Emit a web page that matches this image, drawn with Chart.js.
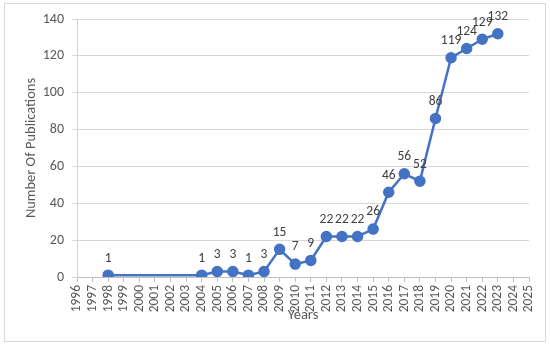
<!DOCTYPE html>
<html>
<head>
<meta charset="utf-8">
<script src="https://cdn.jsdelivr.net/npm/chart.js@4"></script>
<style>
  html, body { margin: 0; padding: 0; background: #ffffff; }
  #wrap { position: relative; width: 550px; height: 346px; }
</style>
</head>
<body>
<div id="wrap"><canvas id="c" width="550" height="346"></canvas></div>
<script>
const years = [1998, 2004, 2005, 2006, 2007, 2008, 2009, 2010, 2011, 2012, 2013, 2014, 2015, 2016, 2017, 2018, 2019, 2020, 2021, 2022, 2023];
const publications = [1, 1, 3, 3, 1, 3, 15, 7, 9, 22, 22, 22, 26, 46, 56, 52, 86, 119, 124, 129, 132];
const xTitle = 'Years';
const yTitle = 'Number Of Publications';

const FONT = "Carlito, 'Open Sans', 'Liberation Sans', sans-serif";

const borderPlugin = {
  id: 'outerBorder',
  beforeDraw(chart) {
    const ctx = chart.ctx;
    ctx.save();
    ctx.fillStyle = '#ffffff';
    ctx.fillRect(0, 0, chart.width, chart.height);
    ctx.strokeStyle = '#d9d9d9';
    ctx.lineWidth = 1;
    ctx.strokeRect(4.5, 3.5, 541, 338);
    ctx.restore();
  }
};

const labelPlugin = {
  id: 'pointLabels',
  afterDatasetsDraw(chart) {
    const ctx = chart.ctx;
    const meta = chart.getDatasetMeta(0);
    ctx.save();
    ctx.font = '13.5px ' + FONT;
    ctx.fillStyle = '#404040';
    ctx.textAlign = 'center';
    ctx.textBaseline = 'middle';
    meta.data.forEach((pt, i) => {
      ctx.fillText(String(publications[i]), pt.x, pt.y - 17);
    });
    ctx.restore();
  }
};

new Chart(document.getElementById('c'), {
  type: 'line',
  data: {
    datasets: [{
      data: years.map((y, i) => ({ x: y, y: publications[i] })),
      borderColor: '#4472C4',
      backgroundColor: '#4472C4',
      borderWidth: 2.5,
      pointRadius: 4.5,
      pointHoverRadius: 4.5,
      pointBackgroundColor: '#4472C4',
      pointBorderColor: '#4472C4',
      tension: 0,
      fill: false
    }]
  },
  options: {
    responsive: false,
    animation: false,
    events: [],
    layout: { padding: { top: 19, right: 21, bottom: 22, left: 10 } },
    plugins: {
      legend: { display: false },
      tooltip: { enabled: false }
    },
    scales: {
      x: {
        type: 'linear',
        min: 1996,
        max: 2025,
        afterFit(s) { s.height = 47; },
        ticks: {
          stepSize: 1,
          autoSkip: false,
          minRotation: 90,
          maxRotation: 90,
          padding: 3,
          color: '#595959',
          font: { family: FONT, size: 13.5 },
          callback: v => String(v)
        },
        grid: {
          drawOnChartArea: false,
          drawTicks: true,
          tickLength: 5,
          color: '#bfbfbf'
        },
        border: { display: true, color: '#bfbfbf', width: 1 },
        title: {
          display: true,
          text: xTitle,
          color: '#595959',
          font: { family: FONT, size: 14.5 },
          padding: 0
        }
      },
      y: {
        min: 0,
        max: 140,
        afterFit(s) { s.width = 67; },
        ticks: {
          stepSize: 20,
          padding: 8,
          color: '#595959',
          font: { family: FONT, size: 14 }
        },
        grid: {
          color: '#d9d9d9',
          tickLength: 5,
          drawTicks: true
        },
        border: { display: true, color: '#c6d5ee', width: 1 },
        title: {
          display: true,
          text: yTitle,
          color: '#595959',
          font: { family: FONT, size: 14.5 },
          padding: { top: 13, bottom: 0 }
        }
      }
    }
  },
  plugins: [borderPlugin, labelPlugin]
});
</script>
</body>
</html>
